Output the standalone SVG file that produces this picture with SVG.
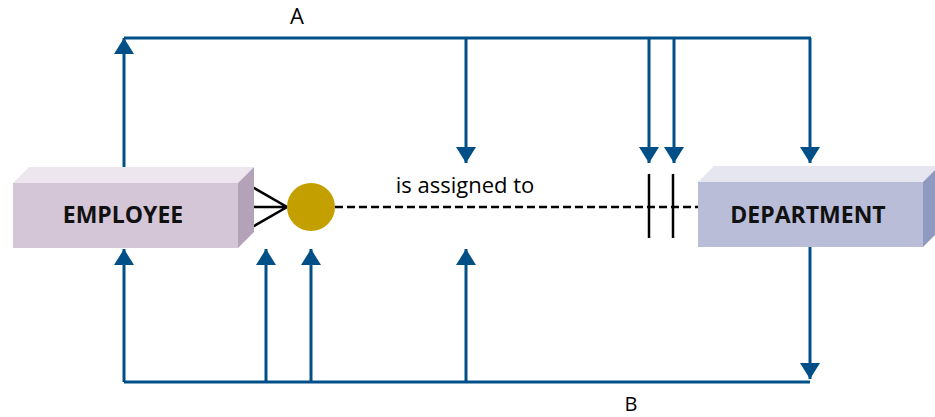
<svg xmlns="http://www.w3.org/2000/svg" width="935" height="417" viewBox="0 0 935 417">
<defs>
<marker id="ah" markerUnits="userSpaceOnUse" markerWidth="20" markerHeight="20" viewBox="0 0 16 20" refX="16" refY="10" orient="auto">
<path d="M0,0 L16,10 L0,20 Z" fill="#004f87"/>
</marker>
<style>
.c{stroke:#004f87;stroke-width:3;fill:none}
.ca{stroke:#004f87;stroke-width:3;fill:none;marker-end:url(#ah)}
.k{stroke:#000;stroke-width:2.5;fill:none}
.lbl{font-family:"Open Sans","Noto Sans",sans-serif;fill:#000}
.nm{font-family:"Open Sans","Noto Sans",sans-serif;font-weight:bold;font-size:23px;fill:#111;text-anchor:middle}
</style>
</defs>
<g id="connectors">
<polyline class="c" points="124,38 811,38"/>
<line class="ca" x1="124" y1="167" x2="124" y2="38"/>
<line class="ca" x1="466" y1="38" x2="466" y2="163"/>
<line class="ca" x1="649" y1="38" x2="649" y2="163"/>
<line class="ca" x1="674" y1="38" x2="674" y2="163"/>
<line class="ca" x1="810" y1="38" x2="810" y2="163"/>
<polyline class="c" points="124,382 810,382"/>
<line class="ca" x1="124" y1="382" x2="124" y2="249"/>
<line class="ca" x1="266" y1="382" x2="266" y2="249"/>
<line class="ca" x1="311" y1="382" x2="311" y2="249"/>
<line class="ca" x1="466" y1="382" x2="466" y2="249"/>
<line class="ca" x1="810" y1="247" x2="810" y2="379"/>
<line x1="287" y1="207" x2="698" y2="207" stroke="#000" stroke-width="2.5" stroke-dasharray="8,4"/>
<path class="k" d="M247,184 L287,207 L247,230 M247,207 L287,207"/>
<line class="k" x1="649" y1="174" x2="649" y2="238"/>
<line class="k" x1="673" y1="174" x2="673" y2="238"/>
<circle cx="311" cy="207" r="24" fill="#c3a000"/>
<text class="lbl" x="297" y="24" font-size="22" text-anchor="middle">A</text>
<text class="lbl" x="631" y="411" font-size="20" text-anchor="middle">B</text>
<text class="lbl" x="465" y="193" font-size="22" text-anchor="middle">is assigned to</text>
</g>
<g id="employee">
<polygon points="13,183 29,167 254,167 238,183" fill="#ede6ee"/>
<polygon points="238,183 254,167 254,232 238,248" fill="#b4a2b8"/>
<rect x="13" y="183" width="225" height="65" fill="#d4c6d6"/>
<text class="nm" x="123" y="223">EMPLOYEE</text>
</g>
<g id="department">
<polygon points="698,182 714,166 939,166 923,182" fill="#e6e6f1"/>
<polygon points="923,182 939,166 939,231 923,247" fill="#9099bf"/>
<rect x="698" y="182" width="225" height="65" fill="#b9bdd8"/>
<text class="nm" x="808" y="223">DEPARTMENT</text>
</g>
</svg>
